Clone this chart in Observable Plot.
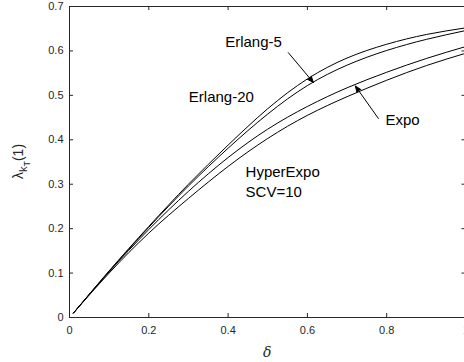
<!DOCTYPE html>
<html>
<head>
<meta charset="utf-8">
<script src="https://cdn.jsdelivr.net/npm/d3@7"></script>
<script src="https://cdn.jsdelivr.net/npm/@observablehq/plot@0.6"></script>
<style>
  html, body { margin: 0; padding: 0; overflow: hidden; background: #fff; }
  #chart { width: 464px; height: 362px; overflow: hidden; }
  #chart svg { max-width: none !important; }
</style>
</head>
<body>
<div id="chart"></div>
<script>
// Data
const delta    = [0.01, 0.1, 0.2, 0.3, 0.4, 0.5, 0.6, 0.7, 0.8, 0.9, 1.0];
const erlang20 = [0.01, 0.105, 0.205, 0.300, 0.388, 0.470, 0.537, 0.584, 0.615, 0.637, 0.652];
const erlang5  = [0.01, 0.104, 0.203, 0.296, 0.381, 0.458, 0.522, 0.568, 0.601, 0.626, 0.646];
const expo     = [0.01, 0.103, 0.198, 0.284, 0.360, 0.424, 0.475, 0.517, 0.552, 0.583, 0.610];
const hyper    = [0.01, 0.100, 0.190, 0.268, 0.340, 0.403, 0.455, 0.497, 0.534, 0.567, 0.595];
const seriesNames = ["Erlang-20", "Erlang-5", "Expo", "HyperExpo"];
const xTicks = [0, 0.2, 0.4, 0.6, 0.8, 1];
const yTicks = [0, 0.1, 0.2, 0.3, 0.4, 0.5, 0.6, 0.7];
const xTickLabels = ["0", "0.2", "0.4", "0.6", "0.8", "1"];
const yTickLabels = ["0", "0.1", "0.2", "0.3", "0.4", "0.5", "0.6", "0.7"];

// Annotations (data units)
const centerLabels = [
  {text: "Erlang-5", x: 0.464, y: 0.619},
  {text: "Erlang-20", x: 0.383, y: 0.495},
  {text: "Expo", x: 0.84, y: 0.445}
];
const leftLabels = [
  {text: "HyperExpo", x: 0.444, y: 0.328},
  {text: "SCV=10", x: 0.444, y: 0.283}
];
const arrows = [
  {x1: 0.552, y1: 0.596, x2: 0.615, y2: 0.529},
  {x1: 0.779, y1: 0.448, x2: 0.721, y2: 0.521}
];

const allSeries = [erlang20, erlang5, expo, hyper];
const rows = [];
allSeries.forEach((vals, i) => vals.forEach((v, j) => rows.push({series: seriesNames[i], x: delta[j], y: v})));

const W = 470, H = 362, mt = 6, mb = 45, ml = 69, mr = 4.5;
const ph = H - mt - mb, pw = W - ml - mr;
const tickLen = 4;
const axisColor = "#262626";
const font = "Liberation Sans, Arial, Helvetica, sans-serif";
const fmtX = d => xTickLabels[xTicks.findIndex(t => Math.abs(t - d) < 1e-9)];
const fmtY = d => yTickLabels[yTicks.findIndex(t => Math.abs(t - d) < 1e-9)];

const chart = Plot.plot({
  width: W,
  height: H,
  marginTop: mt,
  marginBottom: mb,
  marginLeft: ml,
  marginRight: mr,
  style: {fontFamily: font, fontSize: "11px", color: axisColor, background: "#fff", overflow: "visible", maxWidth: "none"},
  x: {domain: [0, 1]},
  y: {domain: [0, 0.7]},
  marks: [
    Plot.axisX(xTicks, {tickSize: 0, tickPadding: 9, label: null, fontSize: 11, fill: axisColor, tickFormat: fmtX}),
    Plot.axisY(yTicks, {tickSize: 0, tickPadding: 6, label: null, fontSize: 11, fill: axisColor, tickFormat: fmtY}),
    // inward ticks on all four sides
    Plot.ruleX(xTicks, {x: d => d, insetTop: ph - tickLen, stroke: axisColor}),
    Plot.ruleX(xTicks, {x: d => d, insetBottom: ph - tickLen, stroke: axisColor}),
    Plot.ruleY(yTicks, {y: d => d, insetRight: pw - tickLen, stroke: axisColor}),
    Plot.ruleY(yTicks, {y: d => d, insetLeft: pw - tickLen, stroke: axisColor}),
    Plot.frame({stroke: axisColor, strokeWidth: 1}),
    Plot.line(rows, {x: "x", y: "y", z: "series", stroke: "#000", strokeWidth: 1, curve: "natural"}),
    Plot.arrow(arrows, {x1: "x1", y1: "y1", x2: "x2", y2: "y2", stroke: "#000", fill: "#000", strokeWidth: 1, headLength: 10, headAngle: 44}),
    Plot.text(centerLabels, {x: "x", y: "y", text: "text", textAnchor: "middle", fontSize: 15, fill: "#000", fontFamily: font}),
    Plot.text(leftLabels, {x: "x", y: "y", text: "text", textAnchor: "start", fontSize: 15, fill: "#000", fontFamily: font})
  ]
});

const svg = d3.select(chart);
// x label
svg.append("text")
  .attr("x", ml + pw / 2)
  .attr("y", 357)
  .attr("text-anchor", "middle")
  .attr("font-family", "DejaVu Serif, Liberation Serif, serif")
  .attr("font-style", "italic")
  .attr("font-size", 14)
  .attr("fill", axisColor)
  .text("δ");
// y label λ_{k_T}(1)
const yl = svg.append("text")
  .attr("transform", `translate(23,${mt + ph / 2}) rotate(-90)`)
  .attr("text-anchor", "middle")
  .attr("font-family", font)
  .attr("font-size", 14)
  .attr("fill", axisColor);
yl.append("tspan").text("λ");
yl.append("tspan").attr("font-size", 11).attr("dy", 4).text("k");
yl.append("tspan").attr("font-size", 9).attr("dy", 3).text("T");
yl.append("tspan").attr("dy", -7).text("(1)");

document.getElementById("chart").appendChild(chart);
</script>
</body>
</html>
